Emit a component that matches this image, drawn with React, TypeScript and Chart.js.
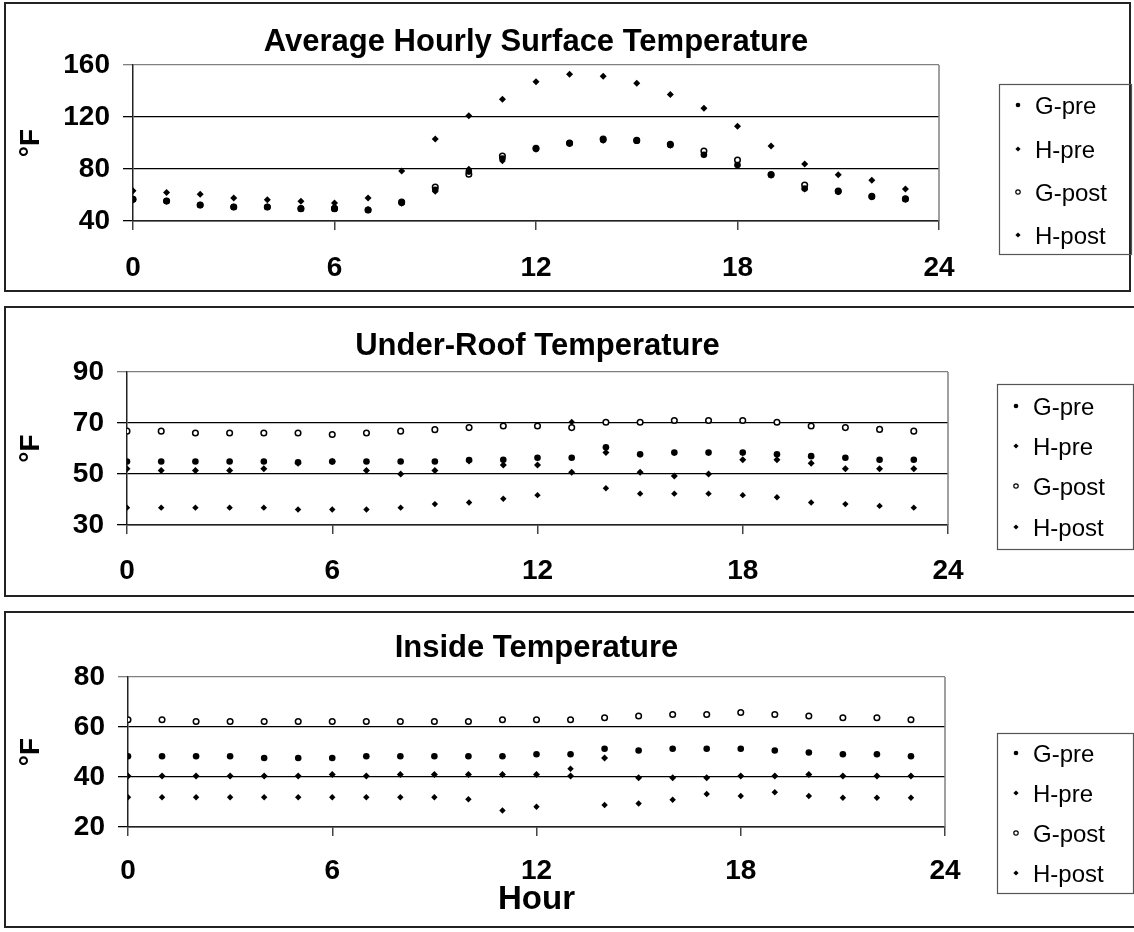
import React, { useEffect, useRef } from 'react';
import { Chart, registerables } from 'chart.js';

Chart.register(...registerables);

// ---------- DATA ----------
const hours = [0, 1, 2, 3, 4, 5, 6, 7, 8, 9, 10, 11, 12, 13, 14, 15, 16, 17, 18, 19, 20, 21, 22, 23];
const seriesNames = ['G-pre', 'H-pre', 'G-post', 'H-post'];
const xTicks = [0, 6, 12, 18, 24];

// Average Hourly Surface Temperature
const surfaceGPre = [56.7, 55.4, 52.3, 50.8, 50.8, 49.5, 49.5, 48.5, 54.1, 64, 78, 88, 95.6, 99.7, 102.3, 101.8, 98.5, 91, 83, 75.4, 65, 62.6, 58.7, 56.9];
const surfaceHPre = [63.3, 62, 60.5, 57.7, 56.4, 55.1, 53.8, 57.7, 78.5, 103, 121, 133.6, 147.2, 152.8, 151.3, 145.9, 137.4, 126.7, 112.8, 97.7, 83.8, 75.6, 71.3, 64.6];
const surfaceGPost = [56.7, 55.4, 52.3, 50.8, 50.8, 49.5, 49.5, 48.5, 54.5, 66.2, 76, 90, 96, 100, 103, 102, 99, 93.8, 86.9, 75.8, 67.7, 63, 59, 57];
const surfaceHPost = [56, 55, 52, 51, 51, 49.5, 51, 49, 53.5, 62.6, 80, 86.2, 95, 99.3, 101.8, 101.5, 98, 90.8, 82.6, 75, 64.4, 62.3, 58.3, 56.5];

// Under-Roof Temperature
const roofGPre = [54.9, 54.9, 54.9, 54.9, 54.9, 54.6, 54.9, 54.9, 54.9, 54.9, 55.5, 55.6, 56.4, 56.4, 60.5, 57.7, 58.4, 58.4, 58.4, 57.7, 57.0, 56.4, 55.6, 55.6];
const roofHPre = [52.1, 51.4, 51.4, 51.4, 52.1, 54.2, 54.9, 51.4, 50, 51.4, 55.1, 53.5, 53.5, 50.7, 58.4, 50.7, 49.2, 50, 55.6, 55.6, 54.2, 52.1, 52.1, 52.1];
const roofGPost = [66.8, 66.8, 66.1, 66.1, 66.1, 66.1, 65.5, 66.1, 66.8, 67.4, 68.2, 68.8, 68.8, 68.2, 70.3, 70.3, 71.0, 71.0, 71.0, 70.3, 68.8, 68.2, 67.5, 66.8];
const roofHPost = [36.8, 36.8, 36.8, 36.8, 36.8, 36.1, 36.1, 36.1, 36.8, 38.2, 38.8, 40.3, 41.7, 70.4, 44.4, 42.3, 42.3, 42.3, 41.7, 40.9, 38.8, 38.2, 37.5, 36.8];

// Inside Temperature
const insideGPre = [48.3, 48.3, 48.3, 48.3, 47.6, 47.6, 47.6, 48.3, 48.3, 48.3, 48.3, 48.3, 49.1, 49.1, 51.3, 50.6, 51.3, 51.3, 51.3, 50.6, 49.8, 49.1, 49.1, 48.3];
const insideHPre = [40.4, 40.4, 40.4, 40.4, 40.4, 40.4, 41.0, 40.4, 41.0, 41.0, 41.0, 41.0, 41.0, 40.4, 47.6, 39.7, 39.7, 39.7, 40.4, 40.4, 41.0, 40.4, 40.4, 40.4];
const insideGPost = [62.9, 62.9, 62.2, 62.2, 62.2, 62.2, 62.2, 62.2, 62.2, 62.2, 62.2, 62.9, 62.9, 62.9, 63.7, 64.4, 65.0, 65.0, 65.8, 65.0, 64.4, 63.7, 63.7, 62.9];
const insideHPost = [31.9, 31.9, 31.9, 31.9, 31.9, 31.9, 31.9, 31.9, 31.9, 31.9, 31.1, 26.6, 28.1, 43.3, 28.8, 29.4, 30.9, 33.2, 32.4, 33.9, 32.4, 31.7, 31.7, 31.7];

// ---------- LAYOUT ----------
const FONT = '"Liberation Sans", Arial, Helvetica, sans-serif';
const PAGE_W = 1134;

type Panel = {
  title: string;
  series: number[][];
  yMin: number; yMax: number; yStep: number;
  canvasTop: number; canvasHeight: number;
  plot: { left: number; right: number; top: number; bottom: number };
  titleBase: number;
  xPad: number;
  showHour: boolean;
  legend: { left: number; right: number; top: number; bottom: number; items: number[]; markerX: number; textX: number };
  frame: { left: number; top: number; right: number; bottom: number };
};

const panels: Panel[] = [
  {
    title: 'Average Hourly Surface Temperature',
    series: [surfaceGPre, surfaceHPre, surfaceGPost, surfaceHPost],
    yMin: 40, yMax: 160, yStep: 40,
    canvasTop: 0, canvasHeight: 296,
    plot: { left: 133, right: 939, top: 65, bottom: 221 },
    titleBase: 51,
    xPad: 21,
    showHour: false,
    legend: { left: 999, right: 1131, top: 84, bottom: 254, items: [105, 149, 192, 235], markerX: 1018, textX: 1035 },
    frame: { left: 4, top: 2, right: 1131, bottom: 292 },
  },
  {
    title: 'Under-Roof Temperature',
    series: [roofGPre, roofHPre, roofGPost, roofHPost],
    yMin: 30, yMax: 90, yStep: 20,
    canvasTop: 300, canvasHeight: 300,
    plot: { left: 127, right: 948, top: 372, bottom: 525 },
    titleBase: 355,
    xPad: 20,
    showHour: false,
    legend: { left: 997, right: 1133, top: 384, bottom: 549, items: [406, 446, 486, 527], markerX: 1016, textX: 1033 },
    frame: { left: 4, top: 306, right: 1140, bottom: 597 },
  },
  {
    title: 'Inside Temperature',
    series: [insideGPre, insideHPre, insideGPost, insideHPost],
    yMin: 20, yMax: 80, yStep: 20,
    canvasTop: 605, canvasHeight: 327,
    plot: { left: 128, right: 945, top: 677, bottom: 827 },
    titleBase: 657,
    xPad: 18,
    showHour: true,
    legend: { left: 997, right: 1133, top: 733, bottom: 893, items: [753, 793, 833, 873], markerX: 1016, textX: 1033 },
    frame: { left: 4, top: 611, right: 1140, bottom: 928 },
  },
];

const pointStyles = [
  { pointStyle: 'circle', radius: 3.3, bg: '#000', border: '#000', bw: 0 },
  { pointStyle: 'rectRot', radius: 3.5, bg: '#000', border: '#000', bw: 0 },
  { pointStyle: 'circle', radius: 2.8, bg: '#fff', border: '#000', bw: 1.5 },
  { pointStyle: 'rectRot', radius: 3.2, bg: '#000', border: '#000', bw: 0 },
];

function drawMarker(ctx: CanvasRenderingContext2D, idx: number, x: number, y: number) {
  ctx.save();
  ctx.fillStyle = '#000';
  ctx.strokeStyle = '#000';
  if (idx === 0) {
    ctx.beginPath(); ctx.arc(x, y, 2.3, 0, Math.PI * 2); ctx.fill();
  } else if (idx === 2) {
    ctx.fillStyle = '#fff'; ctx.lineWidth = 1.2;
    ctx.beginPath(); ctx.arc(x, y, 2.2, 0, Math.PI * 2); ctx.fill(); ctx.stroke();
  } else {
    const r = 2.6;
    ctx.beginPath(); ctx.moveTo(x, y - r); ctx.lineTo(x + r, y); ctx.lineTo(x, y + r); ctx.lineTo(x - r, y); ctx.closePath(); ctx.fill();
  }
  ctx.restore();
}

function PanelChart({ p }: { p: Panel }) {
  const ref = useRef<HTMLCanvasElement | null>(null);
  useEffect(() => {
    if (!ref.current) return;
    const off = p.canvasTop;
    const xAxisH = p.canvasTop + p.canvasHeight - p.plot.bottom;
    const deco = {
      id: 'deco',
      beforeDatasetsDraw(chart: any) {
        const { ctx, chartArea } = chart;
        ctx.save();
        ctx.strokeStyle = '#808080';
        ctx.lineWidth = 1.5;
        ctx.beginPath();
        ctx.moveTo(chartArea.right, chartArea.top);
        ctx.lineTo(chartArea.right, chartArea.bottom);
        ctx.stroke();
        ctx.restore();
      },
      afterDraw(chart: any) {
        const { ctx, chartArea } = chart;
        ctx.save();
        ctx.fillStyle = '#000';
        ctx.font = `bold 31px ${FONT}`;
        ctx.textAlign = 'center';
        ctx.textBaseline = 'alphabetic';
        ctx.fillText(p.title, (chartArea.left + chartArea.right) / 2, p.titleBase - off);
        // legend
        const L = p.legend;
        ctx.strokeStyle = '#555';
        ctx.lineWidth = 1.2;
        ctx.strokeRect(L.left + 0.5, L.top - off + 0.5, L.right - L.left, L.bottom - L.top);
        ctx.font = `24px ${FONT}`;
        ctx.textAlign = 'left';
        seriesNames.forEach((name, i) => {
          const y = L.items[i] - off;
          drawMarker(ctx, i, L.markerX, y);
          ctx.fillStyle = '#000';
          ctx.fillText(name, L.textX, y + 8.6);
        });
        ctx.restore();
      },
    };

    const chart = new Chart(ref.current, {
      type: 'scatter',
      data: {
        datasets: seriesNames.map((name, i) => ({
          label: name,
          data: hours.map((h, k) => ({ x: h, y: p.series[i][k] })),
          pointStyle: pointStyles[i].pointStyle as any,
          pointRadius: pointStyles[i].radius,
          pointBackgroundColor: pointStyles[i].bg,
          pointBorderColor: pointStyles[i].border,
          pointBorderWidth: pointStyles[i].bw,
          showLine: false,
        })),
      },
      options: {
        animation: false,
        responsive: false,
        events: [],
        layout: {
          padding: { left: 0, top: p.plot.top - off, right: PAGE_W - p.plot.right, bottom: 0 },
        },
        plugins: { legend: { display: false }, title: { display: false }, tooltip: { enabled: false } },
        scales: {
          x: {
            type: 'linear',
            min: 0, max: 24,
            afterBuildTicks: (s: any) => { s.ticks = xTicks.map((v) => ({ value: v })); },
            afterFit: (s: any) => { s.height = xAxisH; },
            ticks: { font: { family: FONT, size: 28, weight: 'bold' }, color: '#000', padding: p.xPad, maxRotation: 0 },
            grid: { drawOnChartArea: false, drawTicks: true, tickLength: 9, color: '#444', lineWidth: 1.5 },
            border: { display: true, color: '#222', width: 1.5 },
            title: {
              display: p.showHour, text: 'Hour', color: '#000',
              font: { family: FONT, size: 33, weight: 'bold' }, padding: { top: 0, bottom: 12 },
            },
          },
          y: {
            type: 'linear',
            min: p.yMin, max: p.yMax,
            ticks: { stepSize: p.yStep, font: { family: FONT, size: 28, weight: 'bold' }, color: '#000', padding: 13 },
            afterFit: (s: any) => { s.width = p.plot.left; },
            grid: {
              drawTicks: true, tickLength: 10, lineWidth: 1.3,
              color: (c: any) => (c.tick && c.tick.value === p.yMax ? '#808080' : '#000'),
            },
            border: { display: true, color: '#222', width: 1.5 },
            title: {
              display: true, text: '°F', color: '#000',
              font: { family: FONT, size: 28, weight: 'bold' }, padding: { top: 14, bottom: 0 },
            },
          },
        },
      } as any,
      plugins: [deco],
    });
    return () => chart.destroy();
  }, [p]);

  return (
    <>
      <div
        style={{
          position: 'absolute',
          left: p.frame.left,
          top: p.frame.top,
          width: p.frame.right - p.frame.left,
          height: p.frame.bottom - p.frame.top,
          border: '2px solid #222',
          boxSizing: 'border-box',
        }}
      />
      <canvas
        ref={ref}
        width={PAGE_W}
        height={p.canvasHeight}
        style={{ position: 'absolute', left: 0, top: p.canvasTop, width: PAGE_W, height: p.canvasHeight }}
      />
    </>
  );
}

export default function App() {
  return (
    <div style={{ position: 'fixed', left: 0, top: 0, width: PAGE_W, height: 932, overflow: 'hidden', background: '#fff' }}>
      {panels.map((p, i) => (
        <PanelChart key={i} p={p} />
      ))}
    </div>
  );
}
